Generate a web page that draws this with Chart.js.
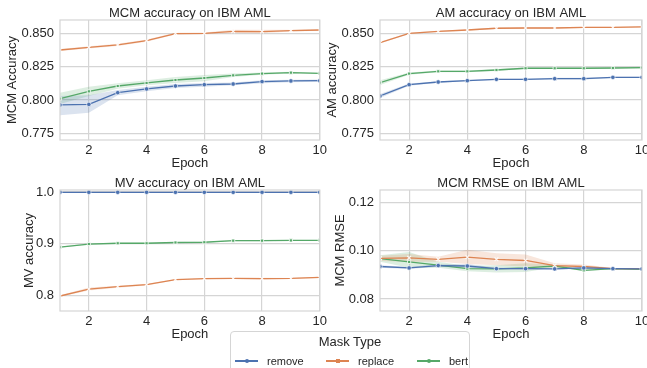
<!DOCTYPE html>
<html>
<head>
<meta charset="utf-8">
<script src="https://cdn.jsdelivr.net/npm/chart.js@4.4.0/dist/chart.umd.min.js"></script>
<style>
    body { margin: 0; width: 647px; height: 368px; overflow: hidden; background: #fff; position: relative;
           font-family: 'Liberation Sans', Arial, sans-serif; color: #262626; }
    canvas { position: absolute; }
    #legend { position: absolute; left: 230px; top: 331px; width: 240px; height: 50px; background: #fff;
              border: 1px solid #d5d5d5; border-radius: 4px; box-sizing: border-box; }
    #legend .title { position: absolute; left: 0; right: 0; top: 2px; text-align: center; font-size: 13px; }
    #legend .item { position: absolute; top: 22px; font-size: 11px; line-height: 14px; }
    #legend .swatch { position: absolute; top: 6px; width: 23px; height: 1.5px; }
    #legend .mark { position: absolute; top: -1.5px; left: 9.5px; width: 4px; height: 4px; }
    #legend .txt { position: absolute; left: 32px; top: 0; white-space: nowrap; }
</style>
</head>
<body>
<canvas id="c_mcm" width="330" height="170" style="left:0;top:0"></canvas>
<canvas id="c_am" width="335" height="170" style="left:322px;top:0"></canvas>
<canvas id="c_mv" width="330" height="171" style="left:0;top:170px"></canvas>
<canvas id="c_rmse" width="335" height="171" style="left:322px;top:170px"></canvas>

<div id="legend">
    <div class="title">Mask Type</div>
    <div class="item" style="left:4px"><span class="swatch" style="background:#4c72b0"><span class="mark" style="background:#4c72b0;border-radius:50%"></span></span><span class="txt">remove</span></div>
    <div class="item" style="left:95px"><span class="swatch" style="background:#dd8452"><span class="mark" style="background:#dd8452"></span></span><span class="txt">replace</span></div>
    <div class="item" style="left:186px"><span class="swatch" style="background:#55a868"><span class="mark" style="background:#55a868;border-radius:50%"></span></span><span class="txt">bert</span></div>
</div>

<script>
const epochs = [1, 2, 3, 4, 5, 6, 7, 8, 9, 10];
const xTicks = [2, 4, 6, 8, 10];

// MCM accuracy
const mcmRemove   = [0.7963, 0.7967, 0.8055, 0.8083, 0.8105, 0.8115, 0.8120, 0.8138, 0.8143, 0.8145];
const mcmRemoveLo = [0.7885, 0.7905, 0.8035, 0.8065, 0.8090, 0.8100, 0.8110, 0.8125, 0.8133, 0.8137];
const mcmRemoveHi = [0.8030, 0.8035, 0.8075, 0.8100, 0.8120, 0.8128, 0.8132, 0.8148, 0.8152, 0.8153];
const mcmReplace   = [0.8375, 0.8395, 0.8413, 0.8445, 0.8498, 0.8500, 0.8515, 0.8513, 0.8520, 0.8525];
const mcmReplaceLo = [0.8368, 0.8387, 0.8405, 0.8436, 0.8492, 0.8494, 0.8503, 0.8500, 0.8513, 0.8520];
const mcmReplaceHi = [0.8382, 0.8403, 0.8421, 0.8454, 0.8504, 0.8506, 0.8527, 0.8526, 0.8527, 0.8530];
const mcmBert   = [0.8010, 0.8065, 0.8105, 0.8128, 0.8150, 0.8165, 0.8185, 0.8198, 0.8205, 0.8200];
const mcmBertLo = [0.7970, 0.8030, 0.8085, 0.8110, 0.8128, 0.8140, 0.8172, 0.8190, 0.8198, 0.8195];
const mcmBertHi = [0.8055, 0.8100, 0.8125, 0.8148, 0.8172, 0.8188, 0.8198, 0.8206, 0.8212, 0.8205];
const mcmTicks = [0.775, 0.800, 0.825, 0.850];

// AM accuracy
const amRemove   = [0.8030, 0.8115, 0.8135, 0.8145, 0.8155, 0.8155, 0.8160, 0.8160, 0.8170, 0.8170];
const amRemoveLo = [0.8015, 0.8107, 0.8130, 0.8140, 0.8150, 0.8150, 0.8154, 0.8154, 0.8165, 0.8165];
const amRemoveHi = [0.8045, 0.8123, 0.8140, 0.8150, 0.8160, 0.8160, 0.8166, 0.8166, 0.8175, 0.8175];
const amReplace   = [0.8430, 0.8500, 0.8515, 0.8525, 0.8538, 0.8540, 0.8540, 0.8545, 0.8545, 0.8548];
const amReplaceLo = [0.8424, 0.8495, 0.8510, 0.8520, 0.8533, 0.8535, 0.8535, 0.8540, 0.8540, 0.8543];
const amReplaceHi = [0.8436, 0.8505, 0.8520, 0.8530, 0.8543, 0.8545, 0.8545, 0.8550, 0.8550, 0.8553];
const amBert   = [0.8130, 0.8198, 0.8215, 0.8215, 0.8225, 0.8238, 0.8238, 0.8238, 0.8240, 0.8243];
const amBertLo = [0.8112, 0.8190, 0.8208, 0.8208, 0.8218, 0.8232, 0.8232, 0.8232, 0.8234, 0.8236];
const amBertHi = [0.8148, 0.8206, 0.8222, 0.8222, 0.8232, 0.8244, 0.8244, 0.8244, 0.8246, 0.8250];
const amTicks = [0.775, 0.800, 0.825, 0.850];

// MV accuracy
const mvRemove   = [0.9996, 0.9996, 0.9996, 0.9996, 0.9995, 0.9995, 0.9995, 0.9996, 0.9996, 0.9996];
const mvRemoveLo = [0.9993, 0.9993, 0.9993, 0.9993, 0.9992, 0.9992, 0.9992, 0.9993, 0.9993, 0.9993];
const mvRemoveHi = [0.9999, 0.9999, 0.9999, 0.9999, 0.9998, 0.9998, 0.9998, 0.9999, 0.9999, 0.9999];
const mvReplace   = [0.7990, 0.8125, 0.8170, 0.8210, 0.8305, 0.8325, 0.8330, 0.8325, 0.8330, 0.8350];
const mvReplaceLo = [0.7975, 0.8095, 0.8150, 0.8195, 0.8295, 0.8315, 0.8320, 0.8305, 0.8320, 0.8340];
const mvReplaceHi = [0.8005, 0.8155, 0.8190, 0.8225, 0.8315, 0.8335, 0.8340, 0.8345, 0.8340, 0.8360];
const mvBert   = [0.8935, 0.8995, 0.9010, 0.9010, 0.9025, 0.9030, 0.9060, 0.9060, 0.9065, 0.9065];
const mvBertLo = [0.8925, 0.8985, 0.9000, 0.9000, 0.9015, 0.9020, 0.9050, 0.9050, 0.9055, 0.9055];
const mvBertHi = [0.8945, 0.9005, 0.9020, 0.9020, 0.9035, 0.9040, 0.9070, 0.9070, 0.9075, 0.9075];
const mvTicks = [0.8, 0.9, 1.0];

// MCM RMSE
const rmseRemove   = [0.0935, 0.0929, 0.0939, 0.0937, 0.0926, 0.0926, 0.0925, 0.0929, 0.0926, 0.0925];
const rmseRemoveLo = [0.0930, 0.0925, 0.0934, 0.0929, 0.0922, 0.0922, 0.0922, 0.0926, 0.0923, 0.0922];
const rmseRemoveHi = [0.0940, 0.0933, 0.0944, 0.0945, 0.0930, 0.0930, 0.0928, 0.0932, 0.0929, 0.0928];
const rmseReplace   = [0.0969, 0.0971, 0.0965, 0.0974, 0.0965, 0.0960, 0.0939, 0.0935, 0.0926, 0.0926];
const rmseReplaceLo = [0.0958, 0.0955, 0.0955, 0.0945, 0.0940, 0.0935, 0.0930, 0.0929, 0.0923, 0.0923];
const rmseReplaceHi = [0.0980, 0.0987, 0.0975, 0.1005, 0.0990, 0.0985, 0.0948, 0.0943, 0.0929, 0.0929];
const rmseBert   = [0.0968, 0.0954, 0.0941, 0.0926, 0.0925, 0.0929, 0.0937, 0.0919, 0.0926, 0.0923];
const rmseBertLo = [0.0955, 0.0930, 0.0930, 0.0915, 0.0910, 0.0912, 0.0932, 0.0916, 0.0924, 0.0920];
const rmseBertHi = [0.0982, 0.0995, 0.0955, 0.0937, 0.0940, 0.0948, 0.0943, 0.0922, 0.0928, 0.0926];
const rmseTicks = [0.08, 0.10, 0.12];

const FONT = "'Liberation Sans', Arial, sans-serif";
const TEXT = '#262626';
const GRID = '#d5d5d5';
const colors = {
    remove:  { line: '#4c72b0', band: 'rgba(76, 114, 176, 0.2)' },
    replace: { line: '#dd8452', band: 'rgba(221, 132, 82, 0.2)' },
    bert:    { line: '#55a868', band: 'rgba(85, 168, 104, 0.2)' }
};
const markers = {
    remove:  { pointStyle: 'circle', pointRadius: 2.2, pointBorderColor: '#fff', pointBorderWidth: 0.6 },
    replace: { pointStyle: 'crossRot', pointRadius: 2.6, pointBorderColor: 'rgba(255,255,255,0.9)', pointBorderWidth: 1.1 },
    bert:    { pointStyle: 'rect', pointRadius: 2.2, pointBorderColor: '#fff', pointBorderWidth: 0.8 }
};

// draws the light frame round the plot area (all four spines)
const framePlugin = {
    id: 'frame',
    afterDraw(chart) {
        const a = chart.chartArea;
        const ctx = chart.ctx;
        ctx.save();
        ctx.strokeStyle = GRID;
        ctx.lineWidth = 1.2;
        ctx.strokeRect(a.left, a.top, a.right - a.left, a.bottom - a.top);
        ctx.restore();
    }
};

function seriesSets(name, values, lo, hi) {
    const c = colors[name];
    return [
        { label: name + ' lo', data: lo, borderWidth: 0, pointRadius: 0, fill: false, order: 10 },
        { label: name + ' hi', data: hi, borderWidth: 0, pointRadius: 0, fill: '-1', backgroundColor: c.band, order: 10 },
        Object.assign({ label: name, data: values, borderColor: c.line, backgroundColor: c.line,
                        borderWidth: 1.3, fill: false, order: 0 }, markers[name])
    ];
}

function makeChart(id, cfg) {
    const datasets = [].concat(
        seriesSets('remove', cfg.remove[0], cfg.remove[1], cfg.remove[2]),
        seriesSets('replace', cfg.replace[0], cfg.replace[1], cfg.replace[2]),
        seriesSets('bert', cfg.bert[0], cfg.bert[1], cfg.bert[2])
    );
    new Chart(document.getElementById(id), {
        type: 'line',
        data: { labels: epochs, datasets: datasets },
        options: {
            responsive: false,
            animation: false,
            layout: { padding: { left: 0, right: cfg.padRight, top: 0, bottom: 0 } },
            plugins: {
                legend: { display: false },
                tooltip: { enabled: false },
                title: {
                    display: true,
                    text: cfg.title,
                    color: TEXT,
                    fullSize: false,
                    font: { family: FONT, size: 13, weight: 'normal', lineHeight: 1 },
                    padding: { top: 7, bottom: 0 }
                }
            },
            scales: {
                x: {
                    type: 'linear',
                    min: 1,
                    max: 10,
                    afterBuildTicks: (scale) => { scale.ticks = xTicks.map(v => ({ value: v })); },
                    afterFit: (scale) => { scale.height = 30; },
                    grid: { color: GRID, lineWidth: 1.2, drawTicks: false },
                    border: { display: false },
                    ticks: { color: TEXT, padding: 3, maxRotation: 0, font: { family: FONT, size: 13 } },
                    title: { display: true, text: 'Epoch', color: TEXT, padding: { top: 0, bottom: 0 },
                             font: { family: FONT, size: 13, lineHeight: 1 } }
                },
                y: {
                    min: cfg.yMin,
                    max: cfg.yMax,
                    afterBuildTicks: (scale) => { scale.ticks = cfg.yTicks.map(v => ({ value: v })); },
                    afterFit: (scale) => { scale.width = cfg.yWidth; },
                    grid: { color: GRID, lineWidth: 1.2, drawTicks: false },
                    border: { display: false },
                    ticks: { color: TEXT, padding: 6, font: { family: FONT, size: 13 },
                             callback: (v) => v.toFixed(cfg.decimals) },
                    title: { display: true, text: cfg.yTitle, color: TEXT, padding: { top: cfg.yTitlePad, bottom: 0 },
                             font: { family: FONT, size: 13, lineHeight: 1.2 } }
                }
            }
        },
        plugins: [framePlugin]
    });
}

makeChart('c_mcm', {
    title: 'MCM accuracy on IBM AML', yTitle: 'MCM Accuracy',
    yMin: 0.770, yMax: 0.860, yTicks: mcmTicks, decimals: 3,
    yWidth: 60, yTitlePad: 5, padRight: 8,
    remove: [mcmRemove, mcmRemoveLo, mcmRemoveHi],
    replace: [mcmReplace, mcmReplaceLo, mcmReplaceHi],
    bert: [mcmBert, mcmBertLo, mcmBertHi]
});

makeChart('c_am', {
    title: 'AM accuracy on IBM AML', yTitle: 'AM accuracy',
    yMin: 0.770, yMax: 0.860, yTicks: amTicks, decimals: 3,
    yWidth: 58, yTitlePad: 3, padRight: 15,
    remove: [amRemove, amRemoveLo, amRemoveHi],
    replace: [amReplace, amReplaceLo, amReplaceHi],
    bert: [amBert, amBertLo, amBertHi]
});

makeChart('c_mv', {
    title: 'MV accuracy on IBM AML', yTitle: 'MV accuracy',
    yMin: 0.770, yMax: 1.004, yTicks: mvTicks, decimals: 1,
    yWidth: 60, yTitlePad: 22, padRight: 8,
    remove: [mvRemove, mvRemoveLo, mvRemoveHi],
    replace: [mvReplace, mvReplaceLo, mvReplaceHi],
    bert: [mvBert, mvBertLo, mvBertHi]
});

makeChart('c_rmse', {
    title: 'MCM RMSE on IBM AML', yTitle: 'MCM RMSE',
    yMin: 0.075, yMax: 0.1253, yTicks: rmseTicks, decimals: 2,
    yWidth: 58, yTitlePad: 11, padRight: 15,
    remove: [rmseRemove, rmseRemoveLo, rmseRemoveHi],
    replace: [rmseReplace, rmseReplaceLo, rmseReplaceHi],
    bert: [rmseBert, rmseBertLo, rmseBertHi]
});
</script>
</body>
</html>
